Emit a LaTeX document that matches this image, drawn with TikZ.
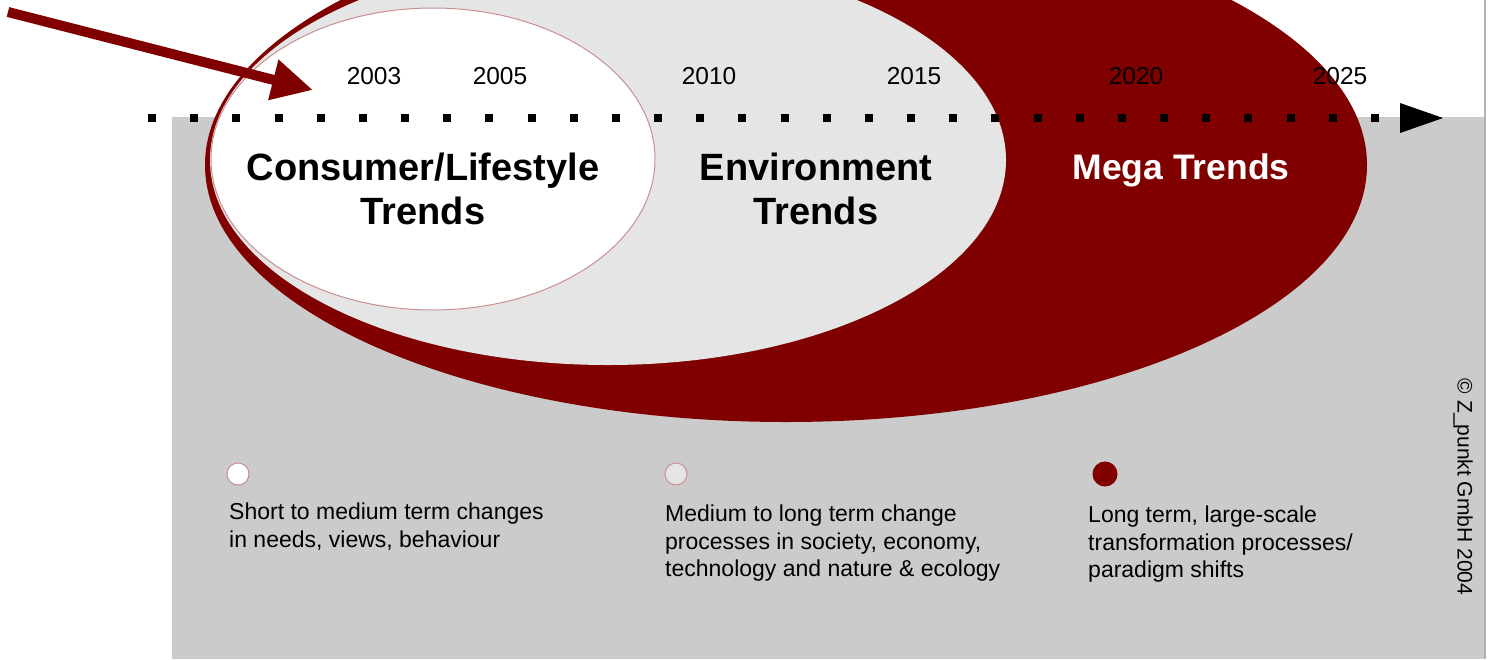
\documentclass[tikz,border=0pt]{standalone}
\usepackage{fontspec}
\setmainfont{Liberation Sans}
\usetikzlibrary{arrows.meta}

\definecolor{megared}{HTML}{800000}
\definecolor{envgray}{HTML}{E5E5E5}
\definecolor{panelgray}{HTML}{CBCBCB}
\definecolor{rimpink}{HTML}{C89090}

\tikzset{
  yearlabel/.style={font=\fontsize{24.5}{28}\selectfont},
  trendlabel/.style={font=\fontsize{38}{44}\selectfont\bfseries, align=center},
  legendtext/.style={font=\fontsize{23}{27.5}\selectfont, align=left, anchor=north west, inner sep=0pt},
  legenddot/.style={circle, minimum size=22pt, inner sep=0pt, draw=rimpink, line width=1pt},
}

\begin{document}
\begin{tikzpicture}[x=1pt, y=-1pt]
\useasboundingbox (0,0) rectangle (1488,659);
\fill[panelgray] (172,117) rectangle (1485,659);
\draw[gray!60, line width=1.5pt] (1485,0) -- (1485,659);

\fill[megared] (786,165) ellipse [x radius=581, y radius=257];
\fill[envgray] (608,160) ellipse [x radius=398, y radius=205];
\filldraw[fill=white, draw=rimpink, line width=1pt] (433,159) ellipse [x radius=222, y radius=151];

\coordinate (axisstart) at (148,118);
\coordinate (axisdotend) at (1380,118);
\coordinate (axistip) at (1443,118);
\draw[line width=8pt, dash pattern=on 8pt off 34.17pt] (axisstart) -- (axisdotend);
\fill (axistip) -- ++(-43,-15) -- ++(0,30) -- cycle;

\node[yearlabel] (y2003) at (374,76) {2003};
\node[yearlabel] (y2005) at (500,76) {2005};
\node[yearlabel] (y2010) at (709,76) {2010};
\node[yearlabel] (y2015) at (914,76) {2015};
\node[yearlabel] (y2020) at (1136,76) {2020};
\node[yearlabel] (y2025) at (1340,76) {2025};

\node[trendlabel] (consumer) at (423,189) {Consumer/Lifestyle\\Trends};
\node[trendlabel] (environment) at (816,189) {Environment\\Trends};
\node[trendlabel, font=\fontsize{35.5}{44}\selectfont\bfseries, text=white] (mega) at (1181,170) {Mega Trends};

\node[legenddot, fill=white] (dotshort) at (238,474) {};
\node[legenddot, fill=envgray] (dotmedium) at (676,474) {};
\node[legenddot, fill=megared, draw=megared, minimum size=24pt] (dotlong) at (1105,474) {};

\node[legendtext] (textshort) at (229,503) {Short to medium term changes\\in needs, views, behaviour};
\node[legendtext] (textmedium) at (665,505) {Medium to long term change\\processes in society, economy,\\technology and nature \& ecology};
\node[legendtext] (textlong) at (1088,506) {Long term, large-scale\\transformation processes/\\paradigm shifts};

\node[font=\fontsize{21}{24}\selectfont, rotate=-90] (copyright) at (1463,487) {© Z\_punkt GmbH 2004};

\coordinate (arrowstart) at (8,12);
\coordinate (arrowtip) at (313,90);
\draw[megared, line width=10pt, -{Triangle[length=41pt, width=39pt]}] (arrowstart) -- (arrowtip);
\end{tikzpicture}
\end{document}
